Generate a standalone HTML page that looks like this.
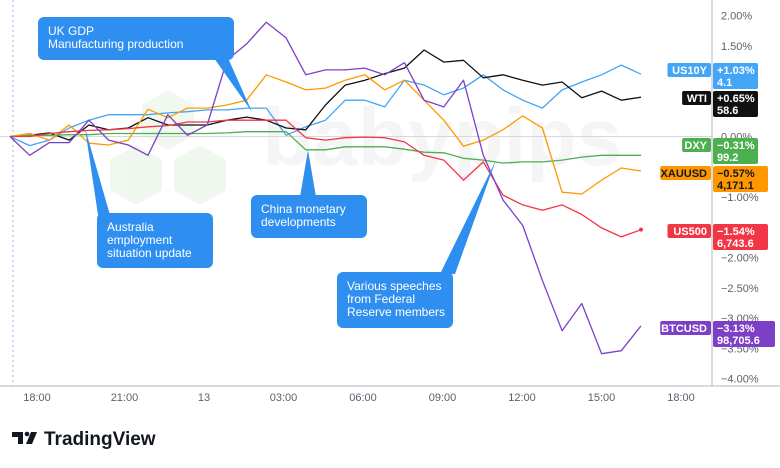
<!DOCTYPE html>
<html><head><meta charset="utf-8"><style>
body{margin:0;background:#fff;font-family:"Liberation Sans",sans-serif}
#wrap{position:relative;width:780px;height:468px;overflow:hidden}
svg text{font-family:"Liberation Sans",sans-serif}
</style></head><body>
<div id="wrap">
<svg id="chart" width="780" height="468"></svg>
</div>
<script>
const xLabels=["18:00","21:00","13","03:00","06:00","09:00","12:00","15:00","18:00"];
const xLabelPos=[0.9,3.1,5.1,7.1,9.1,11.1,13.1,15.1,17.1];
const yTicks=[2,1.5,0,-1,-2,-2.5,-3,-3.5,-4];
const btc=[0,-0.31,-0.1,-0.1,0.27,-0.06,-0.14,-0.31,0.36,0.02,0.19,1.26,1.53,1.89,1.63,1.02,1.1,1.1,1.13,1.02,1.22,0.6,0.49,0.93,-0.31,-1.05,-1.47,-2.38,-3.21,-2.76,-3.59,-3.54,-3.13];
const xau=[0,0.05,-0.06,0.19,-0.11,-0.14,-0.06,0.45,0.31,0.47,0.47,0.52,0.6,1.02,0.9,0.77,0.8,0.93,1.02,0.77,0.93,0.6,0.27,-0.16,-0.06,0.11,0.34,0.14,-0.92,-0.95,-0.72,-0.52,-0.57];
const spx=[0,0,0.05,0.08,0.1,0.11,0.13,0.16,0.18,0.24,0.24,0.27,0.27,0.27,0.27,-0.02,-0.06,-0.02,-0.01,-0.02,-0.09,-0.31,-0.39,-0.72,-0.42,-0.97,-1.13,-1.22,-1.13,-1.29,-1.51,-1.66,-1.54];
const dxy=[0,0.02,0.02,0.03,0.03,0.05,0.05,0.05,0.05,0.05,0.05,0.06,0.08,0.08,0.08,-0.22,-0.22,-0.17,-0.17,-0.17,-0.21,-0.26,-0.27,-0.36,-0.39,-0.44,-0.42,-0.42,-0.39,-0.34,-0.31,-0.31,-0.31];
const us10y=[0,-0.15,-0.06,0.14,0.27,0.36,0.36,0.36,0.39,0.41,0.44,0.44,0.47,0.47,0.02,0.16,0.27,0.6,0.6,0.49,0.93,0.85,0.69,0.8,1.02,0.77,0.6,0.47,0.77,0.9,1.02,1.18,1.03];
const wti=[0,0.02,0.06,-0.06,0.19,0.11,0.14,0.31,0.19,0.19,0.19,0.27,0.32,0.27,0.14,0.11,0.52,0.85,0.93,1.04,1.13,1.43,1.23,1.26,0.97,1.02,0.93,0.85,0.9,0.64,0.75,0.6,0.65];
const seriesNames=["US10Y","WTI","DXY","XAUUSD","US500","BTCUSD"];
const seriesData=[us10y,wti,dxy,xau,spx,btc];
const lastPct=["+1.03%","+0.65%","−0.31%","−0.57%","−1.54%","−3.13%"];
const lastVal=["4.1","58.6","99.2","4,171.1","6,743.6","98,705.6"];
const colors=["#42a5f5","#111111","#4caf50","#ff9800","#f23645","#7e3fc7"];
const labelY=[75,103,150,178,236,333];

const svg=document.getElementById('chart');
const NS="http://www.w3.org/2000/svg";
const X0=10,X1=641,N=btc.length;
function xs(i){return X0+(X1-X0)*i/(N-1);}
function xh(h){return 37+(h-0.9)*(644/16.2);}
function ys(v){return 136.5-v*60.5;}
function mk(tag,attrs,parent){const e=document.createElementNS(NS,tag);for(const k in attrs)e.setAttribute(k,attrs[k]);(parent||svg).appendChild(e);return e;}

const wm=mk('g',{opacity:0.55});


function hex(cx,cy,r){let p=[];for(let k=0;k<6;k++){const a=Math.PI/3*k+Math.PI/6;p.push((cx+r*Math.cos(a)).toFixed(1)+','+(cy+r*Math.sin(a)).toFixed(1));}return p.join(' ');}
mk('polygon',{points:hex(168,120,30),fill:'#e3f2e1'},wm);
mk('polygon',{points:hex(136,175,30),fill:'#e3f2e1'},wm);
mk('polygon',{points:hex(200,175,30),fill:'#e3f2e1'},wm);
const wt=mk('text',{x:262,y:165,'font-size':82,'font-weight':'bold',fill:'#eeeeee'},wm);wt.textContent='babypips';

const dl=mk('line',{x1:13,y1:0,x2:13,y2:386,stroke:'#90b4f0','stroke-dasharray':'2,3','stroke-width':1});


const zl=mk('line',{x1:0,y1:ys(0),x2:712,y2:ys(0),stroke:'#d6d8dd','stroke-width':1});



seriesData.forEach((d,s)=>{
  const pts=d.map((v,i)=>xs(i).toFixed(1)+','+ys(v).toFixed(1)).join(' ');
  const pl=mk('polyline',{points:pts,fill:'none',stroke:colors[s],'stroke-width':1.3,'stroke-linejoin':'round'});
  
  
});
const dot=mk('circle',{cx:xs(N-1),cy:ys(spx[N-1]),r:2,fill:'#f23645'});



function callout(name,bx,by,bw,bh,poly,lines){
  const g=mk('g',{});
  
  
  mk('polygon',{points:poly,fill:'#2f8ff0'},g);
  mk('rect',{x:bx,y:by,width:bw,height:bh,rx:6,fill:'#2f8ff0'},g);
  lines.forEach((t,i)=>{const tx=mk('text',{x:bx+10,y:by+18+i*13,'font-size':12,fill:'#fff'},g);tx.textContent=t;});
}
callout('callout-uk-gdp',38,17,196,43,'214,58,228,58,252,112',["UK GDP","Manufacturing production"]);
callout('callout-australia-employment',97,213,116,55,'85,128,98,215,110,215',["Australia","employment","situation update"]);
callout('callout-china-monetary',251,195,116,43,'300,197,316,197,308,150',["China monetary","developments"]);
callout('callout-fed-speeches',337,272,116,56,'440,274,455,274,496,160',["Various speeches","from Federal","Reserve members"]);

const ax=mk('line',{x1:712,y1:0,x2:712,y2:386,stroke:'#b2b5be','stroke-width':1});


yTicks.forEach(v=>{
  const t=mk('text',{x:721,y:ys(v)+4,'font-size':11,fill:'#5d606b'});
  
  
  t.textContent=(v>0?'':v<0?'−':'')+Math.abs(v).toFixed(2)+'%';
});
const bx=mk('line',{x1:0,y1:386,x2:780,y2:386,stroke:'#b2b5be','stroke-width':1});


xLabels.forEach((l,i)=>{
  const t=mk('text',{x:xh(xLabelPos[i]),y:401,'font-size':11,fill:'#5d606b','text-anchor':'middle'});
  
  
  t.textContent=l;
});

seriesNames.forEach((n,s)=>{
  const g=mk('g',{});
  
  
  const y=labelY[s]-12;
  const tc=(s===3)?'#131722':'#fff';
  const nw=n.length*7.3+8;
  mk('rect',{x:712-nw,y:y,width:nw-1,height:14,rx:2,fill:colors[s]},g);
  const t1=mk('text',{x:707,y:y+11,'font-size':11,'font-weight':'bold',fill:tc,'text-anchor':'end'},g);t1.textContent=n;
  const vw=Math.max(45,lastVal[s].length*7+6);
  mk('rect',{x:713,y:y,width:vw,height:26,rx:2,fill:colors[s]},g);
  const t2=mk('text',{x:717,y:y+11,'font-size':11,'font-weight':'bold',fill:tc},g);t2.textContent=lastPct[s];
  const t3=mk('text',{x:717,y:y+23,'font-size':11,'font-weight':'bold',fill:tc},g);t3.textContent=lastVal[s];
});

const lg=mk('g',{});


mk('path',{d:'M12 432h11v12h-5v-7h-6z',fill:'#131722'},lg);
mk('circle',{cx:27,cy:434,r:2.3,fill:'#131722'},lg);
mk('path',{d:'M31 432h6l-5 12h-6z',fill:'#131722'},lg);
const lt=mk('text',{x:44,y:445,'font-size':19,'font-weight':'bold',fill:'#131722'},lg);lt.textContent='TradingView';
</script>
</body></html>
